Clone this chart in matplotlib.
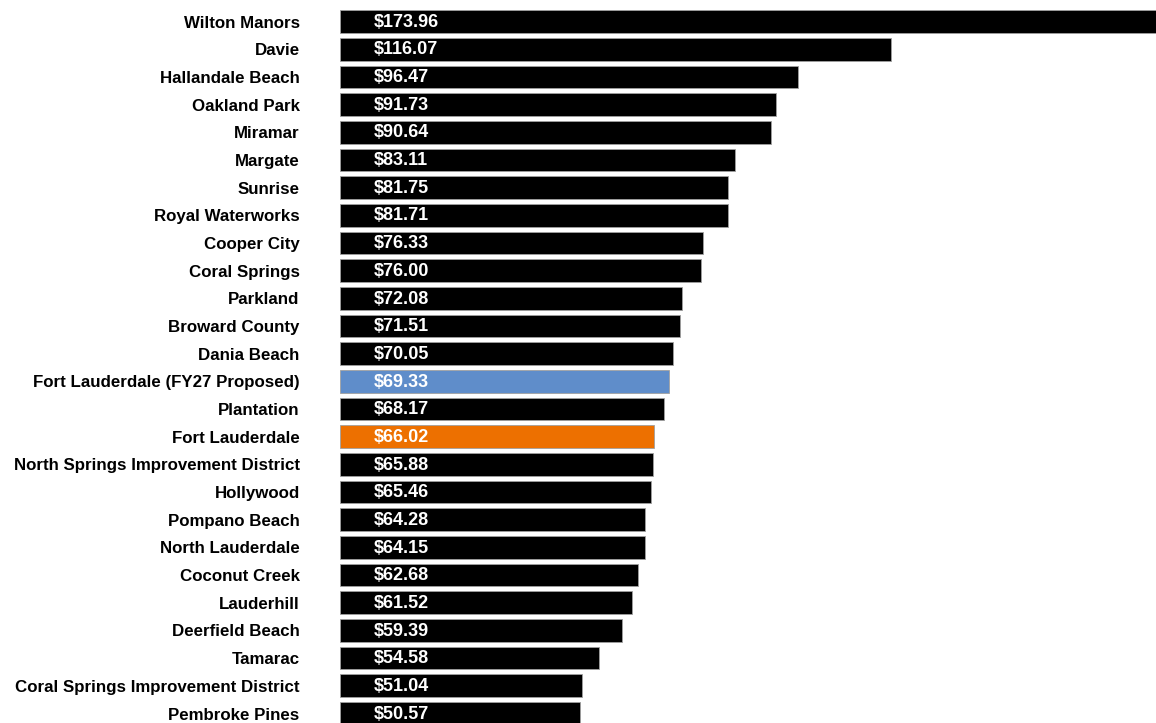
import matplotlib.pyplot as plt

plt.rcParams['font.family'] = ['Liberation Sans', 'DejaVu Sans']

cities = ['Wilton Manors', 'Davie', 'Hallandale Beach', 'Oakland Park', 'Miramar',
          'Margate', 'Sunrise', 'Royal Waterworks', 'Cooper City', 'Coral Springs',
          'Parkland', 'Broward County', 'Dania Beach', 'Fort Lauderdale (FY27 Proposed)',
          'Plantation', 'Fort Lauderdale', 'North Springs Improvement District',
          'Hollywood', 'Pompano Beach', 'North Lauderdale', 'Coconut Creek',
          'Lauderhill', 'Deerfield Beach', 'Tamarac',
          'Coral Springs Improvement District', 'Pembroke Pines']
rates = [173.96, 116.07, 96.47, 91.73, 90.64, 83.11, 81.75, 81.71, 76.33, 76.00,
         72.08, 71.51, 70.05, 69.33, 68.17, 66.02, 65.88, 65.46, 64.28, 64.15,
         62.68, 61.52, 59.39, 54.58, 51.04, 50.57]

colors = ['black'] * len(cities)
colors[cities.index('Fort Lauderdale (FY27 Proposed)')] = '#5f8dca'
colors[cities.index('Fort Lauderdale')] = '#ed7000'

fig = plt.figure(figsize=(11.56, 7.23), dpi=100)
ax = fig.add_axes([340 / 1156, 0, 1 - 340 / 1156, 1])

y = list(range(len(cities)))
ax.barh(y, rates, height=0.82, color=colors, edgecolor='#a0a0a0', linewidth=0.6)

for yi, v in zip(y, rates):
    ax.annotate(f'${v:.2f}', xy=(0, yi), xytext=(24, -0.5), textcoords='offset points',
                ha='left', va='center', color='white', fontsize=13, fontweight='bold')

ax.set_xlim(0, 171.8)
ax.set_ylim(25.343, -0.777)
ax.set_yticks(y)
ax.set_yticklabels(cities, fontsize=12.2, fontweight='bold')
ax.tick_params(axis='y', length=0, pad=29)
ax.set_xticks([])
for s in ax.spines.values():
    s.set_visible(False)

fig.savefig('out.png', dpi=100)
